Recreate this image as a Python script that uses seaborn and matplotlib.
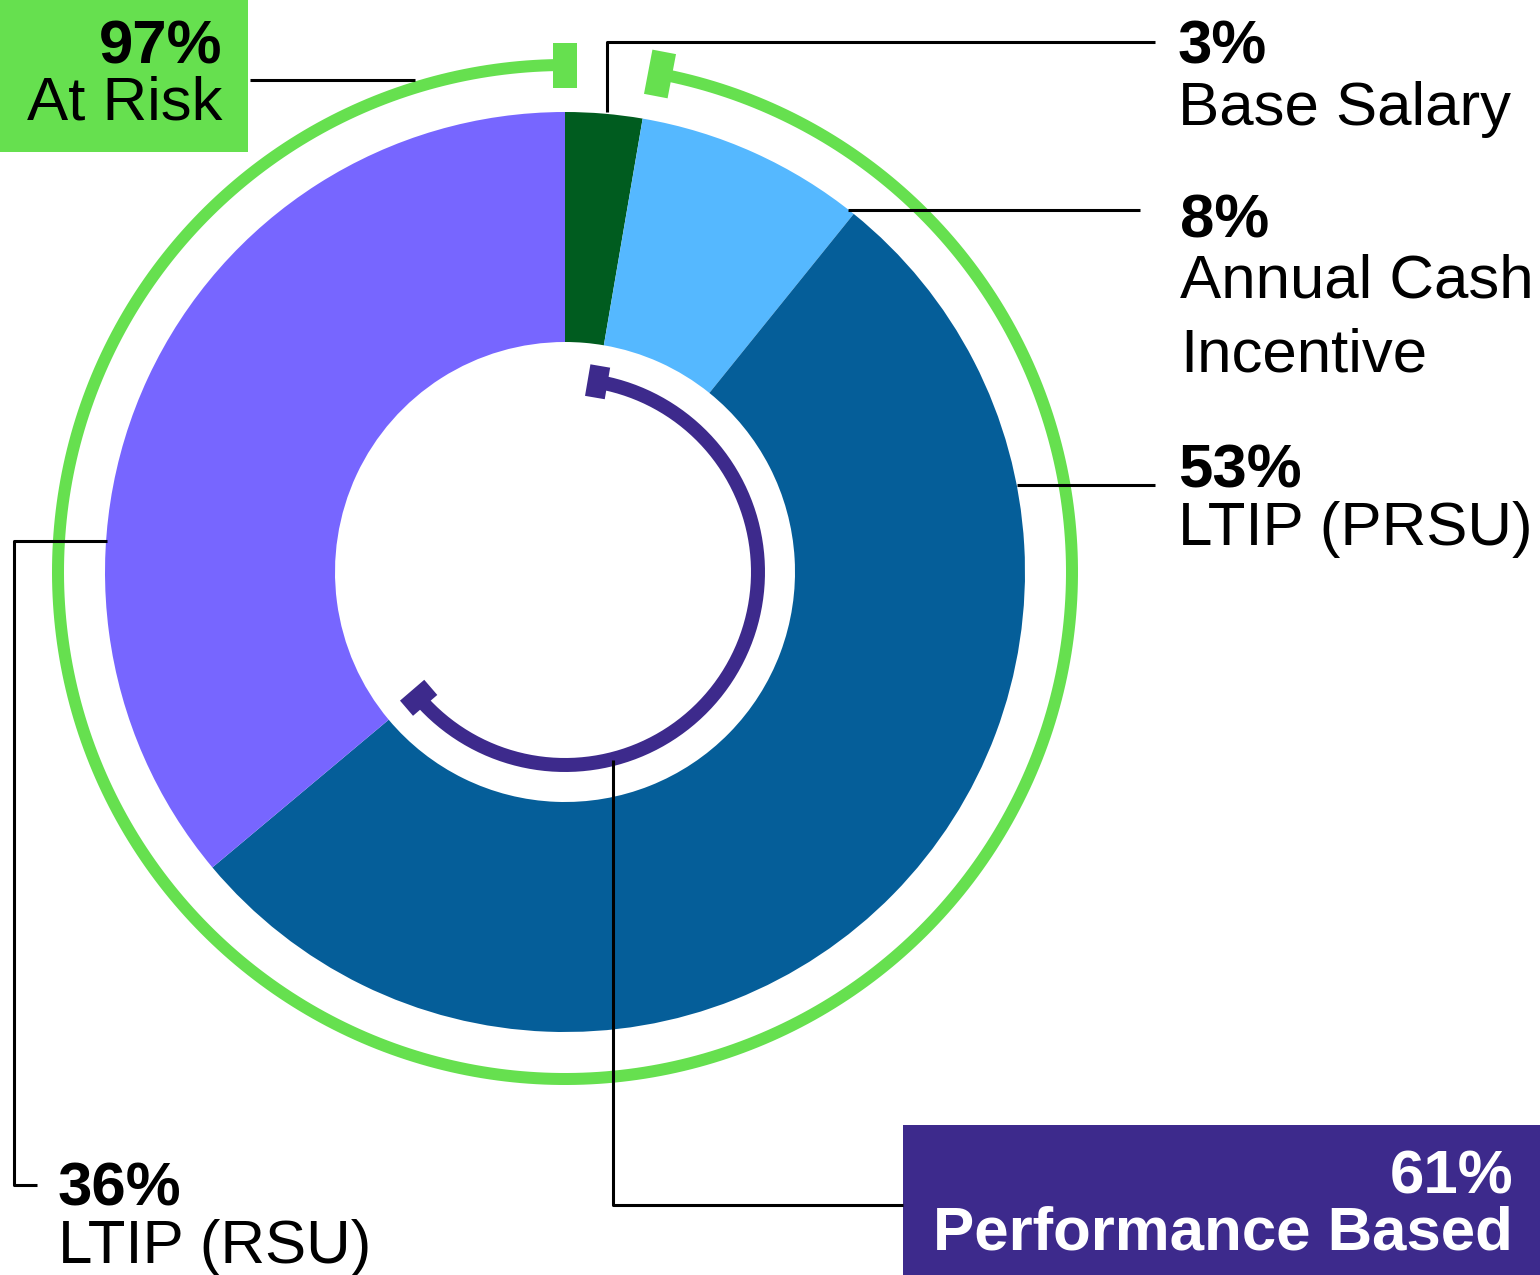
import numpy as np
import seaborn as sns
import matplotlib.pyplot as plt

# pay mix shares (percent), clockwise from 12 o'clock
components = ["Base Salary", "Annual Cash\nIncentive", "LTIP (PRSU)", "LTIP (RSU)"]
shares = [2.7, 8.1, 53.1, 36.1]
share_labels = ["3%", "8%", "53%", "36%"]
slice_colors = ["#005C1F", "#55B8FF", "#055E99", "#7766FF"]

at_risk = 97
performance = 61
green = "#66E04F"
indigo = "#3D2A8C"

sns.set_theme(style="white")
plt.rcParams["font.family"] = ["Liberation Sans", "DejaVu Sans"]
plt.rcParams["text.color"] = "black"

W, H = 1540, 1275
fig = plt.figure(figsize=(W / 100, H / 100), dpi=100)
ax = fig.add_axes([0, 0, 1, 1])

cx, cy = 565, H - 572
R = 460

ax.pie(shares, colors=slice_colors, startangle=90, counterclock=False,
       radius=R, center=(cx, cy),
       wedgeprops=dict(width=R / 2, edgecolor="none", linewidth=0))


def std_angle(frac):
    return np.deg2rad(90 - 360 * frac)


def arc(f0, f1, r, color, lw, cap_len, cap_w):
    t = np.linspace(std_angle(f0), std_angle(f1), 400)
    ax.plot(cx + r * np.cos(t), cy + r * np.sin(t), color=color,
            lw=lw * 0.72, solid_capstyle="butt")
    for f in (f0, f1):
        a = std_angle(f)
        rr = np.array([r - cap_len / 2, r + cap_len / 2])
        ax.plot(cx + rr * np.cos(a), cy + rr * np.sin(a), color=color,
                lw=cap_w * 0.72, solid_capstyle="butt")


start = shares[0] / 100
arc(1 - at_risk / 100, 1.0, 507, green, 12, 45, 24)
arc(start, start + performance / 100, 193, indigo, 14, 32, 20)

# leader lines (pixel coords, y from top)
leaders = [
    [(607, 112), (607, 42), (1155, 42)],
    [(848, 210), (1140, 210)],
    [(1017, 485), (1155, 485)],
    [(107, 541), (14, 541), (14, 1185), (37, 1185)],
    [(613, 760), (613, 1205), (903, 1205)],
    [(415, 80), (250, 80)],
]
for pts in leaders:
    xs = [p[0] for p in pts]
    ys = [H - p[1] for p in pts]
    ax.plot(xs, ys, color="black", lw=2.2, solid_capstyle="butt")

fs = 44.5

# slice labels
label_pos = [(1178, 64, 125), (1180, 237, 297), (1178, 487, 545), (58, 1205, 1263)]
for (x, yb1, yb2), pct, name in zip(label_pos, share_labels, components):
    ax.text(x, H - yb1, pct, fontsize=fs, fontweight="bold", ha="left", va="baseline")
    lines = name.split("\n")
    ax.text(x, H - yb2, lines[0], fontsize=fs, ha="left", va="baseline")
    if len(lines) > 1:
        ax.text(x, H - 372, lines[1], fontsize=fs, ha="left", va="baseline")

# boxes
ax.add_patch(plt.Rectangle((0, H - 152), 248, 152, color=green, lw=0))
ax.text(222, H - 63, f"{at_risk}%", fontsize=fs, fontweight="bold", ha="right", va="baseline")
ax.text(222, H - 120, "At Risk", fontsize=fs, ha="right", va="baseline")

ax.add_patch(plt.Rectangle((903, 0), W - 903, H - 1125, color=indigo, lw=0))
ax.text(1513, H - 1193, f"{performance}%", fontsize=fs, fontweight="bold",
        color="white", ha="right", va="baseline")
ax.text(1513, H - 1250, "Performance Based", fontsize=fs, fontweight="bold",
        color="white", ha="right", va="baseline")

ax.set_xlim(0, W)
ax.set_ylim(0, H)
ax.set_aspect("equal")
ax.axis("off")

fig.savefig("out.png", dpi=100)
